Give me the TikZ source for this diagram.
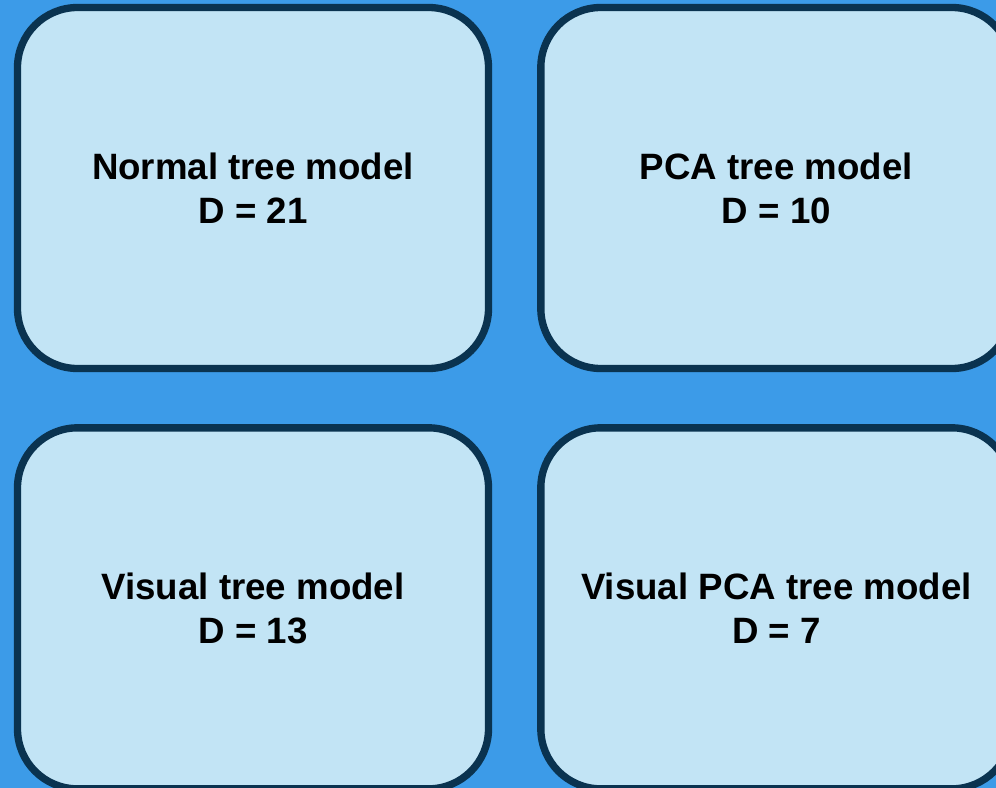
\documentclass[tikz,border=0pt]{standalone}
\usepackage{fontspec}
\setmainfont{Liberation Sans}
\usetikzlibrary{positioning}
\definecolor{skyback}{RGB}{60,155,232}
\definecolor{boxfill}{RGB}{194,228,245}
\definecolor{boxline}{RGB}{10,51,80}

\begin{document}
\begin{tikzpicture}[x=0.75pt, y=-0.75pt, node distance={39pt and 33.75pt},
	model/.style = {draw=boxline, fill=boxfill, line width=5.5pt, rounded corners=45pt, minimum width=353.25pt, minimum height=270.75pt, inner sep=0pt, align=center, font=\fontsize{27.5}{33}\selectfont\bfseries}]
		\fill[skyback] (0,0) rectangle (996,788);
		\useasboundingbox (0,0) rectangle (996,788);
		\node[model] (N) at (253,188) {Normal tree model\\D = 21};
		\node[model] (P) [right=of N] {PCA tree model\\D = 10};
		\node[model] (V) [below=of N] {Visual tree model\\D = 13};
		\node[model] (VP) [below=of P] {Visual PCA tree model\\D = 7};
	\end{tikzpicture}
\end{document}
